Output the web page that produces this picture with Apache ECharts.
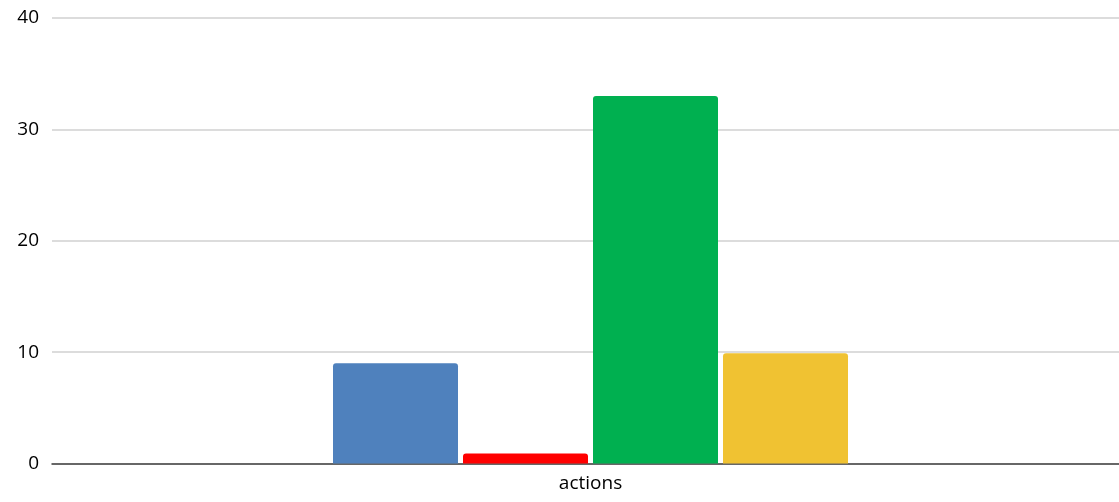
<!DOCTYPE html>
<html><head><meta charset="utf-8">
<script src="https://cdn.jsdelivr.net/npm/echarts@6/dist/echarts.min.js"></script>
<style>html,body{margin:0;padding:0;background:#fff;overflow:hidden}#c{width:1129px;height:502px}</style>
</head><body><div id="c"></div>
<script>
const categories = ['actions'];
const seriesNames = ['A', 'B', 'C', 'D'];
const seriesValues = [[9], [0.9], [33], [9.9]];
const seriesColors = ['#4F81BD', '#FF0000', '#00B050', '#F0C232'];
const yTicks = [0, 10, 20, 30, 40];

const chart = echarts.init(document.getElementById('c'));
chart.setOption({
  animation: false,
  grid: { left: 52, right: 0, top: 18, bottom: 38.5, containLabel: false },
  xAxis: {
    type: 'category', data: categories,
    axisLine: { lineStyle: { color: '#404040', width: 1.5 } },
    axisTick: { show: false },
    axisLabel: { color: '#000', fontSize: 19, fontFamily: 'Open Sans', margin: 11 }
  },
  yAxis: {
    type: 'value', min: yTicks[0], max: yTicks[yTicks.length - 1], interval: 10,
    axisLine: { show: false }, axisTick: { show: false },
    axisLabel: { color: '#000', fontSize: 19, fontFamily: 'Open Sans', margin: 13 },
    splitLine: { lineStyle: { color: '#D0D0D0', width: 1.5 } }
  },
  series: seriesNames.map((n, i) => ({
    name: n, type: 'bar', data: seriesValues[i],
    barWidth: 125, barGap: '4%',
    itemStyle: { color: seriesColors[i], borderRadius: [3, 3, 0, 0] }
  }))
});
</script></body></html>
